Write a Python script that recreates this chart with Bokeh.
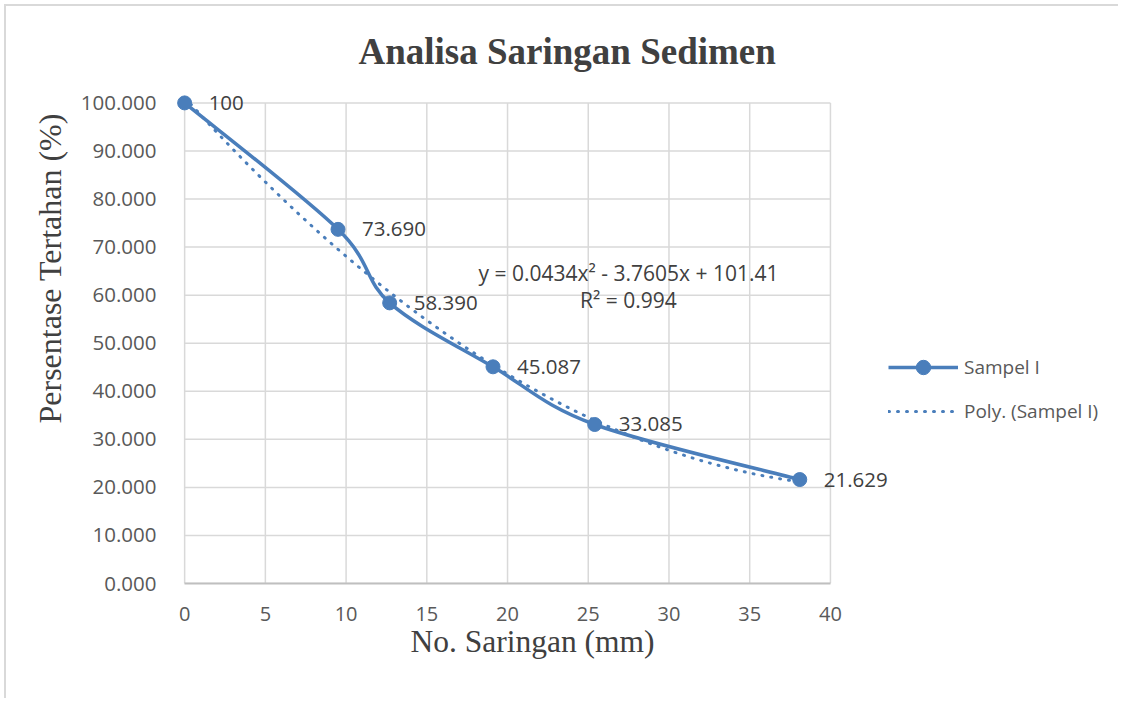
import numpy as np
from bokeh.plotting import figure
from bokeh.models import (Range1d, FixedTicker, NumeralTickFormatter, Label, LabelSet,
                          Legend, LegendItem, ColumnDataSource, Title)
from bokeh.core.properties import value
from bokeh.embed import file_html
from bokeh.resources import INLINE

# ---- data ----
sieve_mm = [0, 9.5, 12.7, 19.1, 25.4, 38.1]
retained_pct = [100, 73.690, 58.390, 45.087, 33.085, 21.629]
point_labels = ["100", "73.690", "58.390", "45.087", "33.085", "21.629"]
x_ticks = [0, 5, 10, 15, 20, 25, 30, 35, 40]
y_ticks = [0, 10, 20, 30, 40, 50, 60, 70, 80, 90, 100]
title_text = "Analisa Saringan Sedimen"
x_title = "No. Saringan (mm)"
y_title = "Persentase Tertahan (%)"
eq_line1 = "y = 0.0434x\u00b2 - 3.7605x + 101.41"
eq_line2 = "R\u00b2 = 0.994"
series_name = "Sampel I"
trend_name = "Poly. (Sampel I)"

BLUE = "#4a7ebb"
TXT = "#404040"
TICK = "#595959"
GRID = "#d9d9d9"
SANS = "Open Sans"
SERIF = "Liberation Serif"

p = figure(width=1114, height=694, x_range=Range1d(-1, 57.1), y_range=Range1d(0, 103),
           output_backend="svg", toolbar_location=None,
           min_border_left=162, min_border_right=14, min_border_top=82, min_border_bottom=117)
p.styles = {"margin-left": "4px", "margin-top": "4px",
            "border-left": "2px solid #d9d9d9", "border-top": "2px solid #d9d9d9"}
p.outline_line_color = None
p.grid.visible = False
p.background_fill_color = "white"
p.border_fill_color = "white"

# grid lines drawn from the tick lists
p.segment(x0=x_ticks, y0=[y_ticks[0]] * len(x_ticks), x1=x_ticks, y1=[y_ticks[-1]] * len(x_ticks),
          line_color=GRID, line_width=1.5)
p.segment(x0=[x_ticks[0]] * len(y_ticks), y0=y_ticks, x1=[x_ticks[-1]] * len(y_ticks), y1=y_ticks,
          line_color=GRID, line_width=1.5)

# axes
xa = p.xaxis[0]
xa.ticker = FixedTicker(ticks=x_ticks)
xa.bounds = (x_ticks[0], x_ticks[-1])
xa.axis_line_color = "#bfbfbf"
xa.axis_line_width = 2
xa.major_tick_line_color = None
xa.minor_tick_line_color = None
xa.major_label_text_font = SANS
xa.major_label_text_font_size = "20px"
xa.major_label_text_color = TICK
xa.major_label_standoff = 17

ya = p.yaxis[0]
ya.ticker = FixedTicker(ticks=y_ticks)
ya.formatter = NumeralTickFormatter(format="0.000")
ya.bounds = (y_ticks[0], y_ticks[-1])
ya.axis_line_color = None
ya.major_tick_line_color = None
ya.minor_tick_line_color = None
ya.major_label_text_font = SANS
ya.major_label_text_font_size = "20.5px"
ya.major_label_text_color = TICK
ya.major_label_standoff = 6

# titles as side-panel text (not clipped)
p.title.text = ""
p.add_layout(Title(text=title_text, align="left", offset=190, vertical_align="bottom",
                   standoff=33, text_font=SERIF, text_font_style="bold",
                   text_font_size="37px", text_color=TXT), "above")
p.add_layout(Title(text=x_title, align="left", offset=242, vertical_align="top",
                   standoff=0, text_font=SERIF, text_font_style="normal",
                   text_font_size="31.5px", text_color=TXT), "below")
p.add_layout(Title(text=y_title, align="left", offset=160, vertical_align="middle",
                   standoff=18, text_font=SERIF, text_font_style="normal",
                   text_font_size="32px", text_color=TXT), "left")

# trendline: 2nd-order polynomial fitted to the data
coef = np.polyfit(sieve_mm, retained_pct, 2)
tx = np.linspace(min(sieve_mm), max(sieve_mm), 200)
ty = np.polyval(coef, tx)
trend_r = p.line(tx, ty, line_color=BLUE, line_width=3, line_dash="1 8", line_cap="round")

# smoothed series line (Catmull-Rom style bezier segments)
xs = np.array(sieve_mm, dtype=float)
ys = np.array(retained_pct, dtype=float)
n = len(xs)
i1 = np.arange(n - 1)
i0 = np.maximum(i1 - 1, 0)
i2 = i1 + 1
i3 = np.minimum(i1 + 2, n - 1)
cx0 = xs[i1] + (xs[i2] - xs[i0]) / 6
cy0 = ys[i1] + (ys[i2] - ys[i0]) / 6
cx1 = xs[i2] - (xs[i3] - xs[i1]) / 6
cy1 = ys[i2] - (ys[i3] - ys[i1]) / 6
bez_r = p.bezier(x0=xs[i1], y0=ys[i1], x1=xs[i2], y1=ys[i2],
                 cx0=cx0, cy0=cy0, cx1=cx1, cy1=cy1,
                 line_color=BLUE, line_width=3.5)

src = ColumnDataSource(dict(x=sieve_mm, y=retained_pct, label=point_labels))
sc_r = p.scatter("x", "y", source=src, size=14, fill_color=BLUE, line_color=BLUE)

p.add_layout(LabelSet(x="x", y="y", text="label", source=src, x_offset=24,
                      text_baseline="middle", text_align="left",
                      text_font=value(SANS), text_font_size="20.5px", text_color=TXT))

p.add_layout(Label(x=27.49, y=64.7, text=eq_line1, text_align="center",
                   text_baseline="middle", text_font=SANS,
                   text_font_size="21px", text_color=TXT))
p.add_layout(Label(x=27.49, y=58.9, text=eq_line2, text_align="center",
                   text_baseline="middle", text_font=SANS,
                   text_font_size="21px", text_color=TXT))

legend = Legend(items=[LegendItem(label=series_name, renderers=[bez_r, sc_r]),
                       LegendItem(label=trend_name, renderers=[trend_r])],
                location=(720, 154), orientation="vertical",
                glyph_width=70, glyph_height=36, label_height=36, label_standoff=6,
                spacing=8, padding=0, margin=0,
                border_line_color=None, background_fill_alpha=0,
                label_text_font=SANS, label_text_font_size="19px", label_text_color=TICK)
p.add_layout(legend)

open("out.html", "w").write(file_html(p, INLINE))
